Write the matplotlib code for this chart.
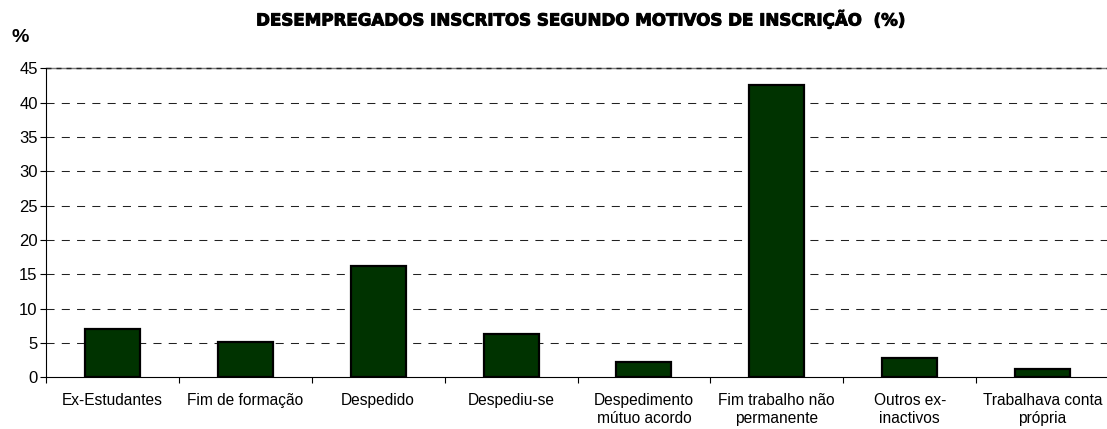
import matplotlib
matplotlib.use("Agg")
import matplotlib.pyplot as plt
import matplotlib.patheffects as pe
import numpy as np

# Desempregados inscritos segundo motivos de inscrição (%)
categories = ['Ex-Estudantes', 'Fim de formação', 'Despedido', 'Despediu-se',
              'Despedimento\nmútuo acordo', 'Fim trabalho não\npermanente',
              'Outros ex-\ninactivos', 'Trabalhava conta\nprópria']
values = [7.0, 5.1, 16.2, 6.3, 2.3, 42.5, 2.8, 1.2]
yticks = [0, 5, 10, 15, 20, 25, 30, 35, 40, 45]

plt.rcParams['font.family'] = ['Liberation Sans', 'DejaVu Sans']
plt.rcParams['lines.scale_dashes'] = False

fig = plt.figure(figsize=(11.07, 4.29), dpi=100)
ax = fig.add_axes([46 / 1107, 1 - 377.3 / 429, 1063 / 1107, 309 / 429])

x = np.arange(len(categories))
ax.bar(x, values, width=0.414, color='#003300', edgecolor='black', linewidth=1.6, zorder=3)

ax.set_xlim(-0.5, len(categories) - 0.5)
ax.set_ylim(0, 45)
ax.set_yticks(yticks)
ax.set_yticklabels([str(v) for v in yticks], fontsize=12)
for v in yticks[1:-1]:
    ax.axhline(v, color='#222222', linestyle=(0, (5.8, 5.2)), linewidth=0.75, zorder=1)
# top line looks like a dense grey/black dash
ax.axhline(45, color='#7a7a7a', linewidth=1.0, zorder=1, clip_on=False)
ax.axhline(45, color='#222222', linestyle=(0, (3.6, 3.6)), linewidth=1.0, zorder=1, clip_on=False)

# category boundaries get the tick marks, labels sit in between
ax.set_xticks(np.arange(-0.5, len(categories), 1))
ax.set_xticklabels([])
ax.set_xticks(x, minor=True)
ax.set_xticklabels(categories, minor=True, fontsize=11.2, linespacing=1.3)
ax.tick_params(axis='x', which='major', direction='out', length=4, width=0.8)
ax.tick_params(axis='x', which='minor', length=0, pad=11)
ax.tick_params(axis='y', direction='out', length=4, width=0.8, pad=2)

for side in ['top', 'right']:
    ax.spines[side].set_visible(False)
ax.spines['left'].set_linewidth(0.8)
ax.spines['bottom'].set_linewidth(0.8)

fig.text(580 / 1107, 1 - 19 / 429, 'DESEMPREGADOS INSCRITOS SEGUNDO MOTIVOS DE INSCRIÇÃO  (%)',
         ha='center', va='center', fontsize=12, fontweight='bold',
         family=['DejaVu Sans'],
         path_effects=[pe.withStroke(linewidth=0.7, foreground='black')])
fig.text(11 / 1107, 1 - 37 / 429, '%', ha='left', va='center', fontsize=14, fontweight='bold')

fig.savefig('out.png', dpi=100)
